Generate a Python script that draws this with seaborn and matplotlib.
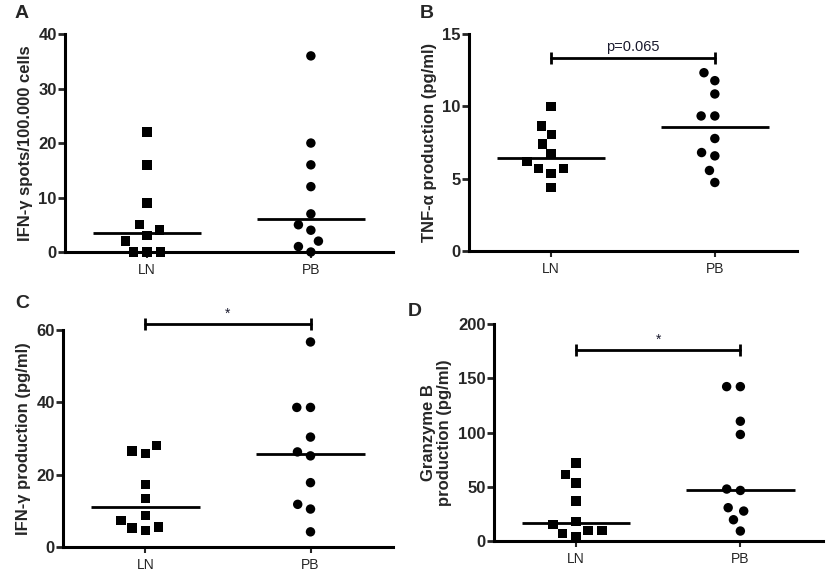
import numpy as np
import pandas as pd
import matplotlib
matplotlib.use("Agg")
import matplotlib.pyplot as plt
import seaborn as sns

# ─── Data ─────────────────────────────────────────────────
GROUPS = ["LN", "PB"]

ifng_spots_ln = [22, 16, 9, 5, 4, 3, 2, 0, 0, 0]
ifng_spots_pb = [36, 20, 16, 12, 7, 5, 4, 2, 1, 0]

tnfa_ln = [10.0, 8.65, 8.05, 7.4, 6.7, 6.2, 5.7, 5.7, 5.35, 4.4]
tnfa_pb = [12.33, 11.78, 10.86, 9.34, 9.34, 7.78, 6.81, 6.58, 5.57, 4.74]

ifng_prod_ln = [28.0, 26.5, 25.9, 17.3, 13.4, 8.7, 7.4, 5.5, 5.2, 4.6]
ifng_prod_pb = [56.7, 38.6, 38.6, 30.4, 26.3, 25.2, 17.8, 11.8, 10.5, 4.2]

gzmb_ln = [71.8, 61.3, 53.4, 36.8, 17.8, 15.3, 9.8, 9.8, 6.7, 4.3]
gzmb_pb = [142.3, 142.3, 110.4, 98.2, 47.9, 46.6, 30.7, 27.6, 19.6, 9.2]

panels = [
    # letter, LN, PB, ylabel, yticks, bracket y, bracket text
    ("A", ifng_spots_ln, ifng_spots_pb, "IFN-γ spots/100.000 cells",
     [0, 10, 20, 30, 40], None, None),
    ("B", tnfa_ln, tnfa_pb, "TNF-α production (pg/ml)",
     [0, 5, 10, 15], 13.35, "p=0.065"),
    ("C", ifng_prod_ln, ifng_prod_pb, "IFN-γ production (pg/ml)",
     [0, 20, 40, 60], 61.6, "*"),
    ("D", gzmb_ln, gzmb_pb, "Granzyme B\nproduction (pg/ml)",
     [0, 50, 100, 150, 200], 176, "*"),
]

# axes rectangles in figure fractions
rects = [
    [0.0783, 0.564, 0.395, 0.377],
    [0.565, 0.5657, 0.395, 0.3753],
    [0.0759, 0.0536, 0.3976, 0.3754],
    [0.595, 0.064, 0.396, 0.3754],
]
letter_pos = [(15, 5), (420, 5), (15, 295), (408, 303)]

# ─── Style ────────────────────────────────────────────────
sns.set_style("ticks")
plt.rcParams["font.family"] = ["Liberation Sans", "DejaVu Sans"]

W, H = 830, 578
fig = plt.figure(figsize=(W / 100, H / 100), dpi=100)

for (letter, ln, pb, ylabel, yticks, by, btxt), rect, lp in zip(panels, rects, letter_pos):
    ax = fig.add_axes(rect)
    df = pd.DataFrame({
        "group": ["LN"] * len(ln) + ["PB"] * len(pb),
        "value": ln + pb,
    })
    for grp, mk in zip(GROUPS, ["s", "o"]):
        sns.swarmplot(data=df[df["group"] == grp], x="group", y="value",
                      order=GROUPS, marker=mk, color="black", size=6.8,
                      linewidth=2.6, ax=ax)
    for coll in ax.collections:
        coll.set_edgecolor("none")
        if len(coll.get_offsets()) > 0:
            coll.set_clip_on(False)
            coll.set_zorder(4)

    # median lines
    med = df.groupby("group")["value"].median()
    for i, grp in enumerate(GROUPS):
        ax.hlines(med[grp], i - 0.33, i + 0.33, color="black", lw=2.0, zorder=3)

    ymax = yticks[-1]
    ax.set_ylim(0, ymax)
    ax.set_xlim(-0.5, 1.5)
    ax.set_yticks(yticks)
    ax.set_xlabel("")
    ax.set_ylabel(ylabel, fontsize=12, fontweight="bold", labelpad=4,
                  linespacing=1.1)
    for lab in ax.get_yticklabels():
        lab.set_fontweight("bold")
    ax.tick_params(axis="y", labelsize=12, length=5, width=2.0, pad=1)
    ax.tick_params(axis="x", labelsize=10, length=4, width=1.5, pad=4)
    sns.despine(ax=ax)
    for sp in ["left", "bottom"]:
        ax.spines[sp].set_linewidth(2.2)
        ax.spines[sp].set_color("black")
        ax.spines[sp].set_capstyle("projecting")
    ax.set_facecolor("none")

    # significance bracket
    if by is not None:
        d = 0.028 * ymax
        ax.plot([0, 1], [by, by], color="black", lw=2.0, clip_on=False)
        ax.vlines([0, 1], by - d, by + d, color="black", lw=2.0, clip_on=False)
        ax.text(0.5, by + 0.6 * d, btxt, ha="center", va="bottom",
                fontsize=10.5 if btxt != "*" else 10, color="#1a1a2e")

    fig.text(lp[0] / W, 1 - lp[1] / H, letter, fontsize=14, fontweight="bold",
             ha="left", va="top")

fig.savefig("out.png", dpi=100)
